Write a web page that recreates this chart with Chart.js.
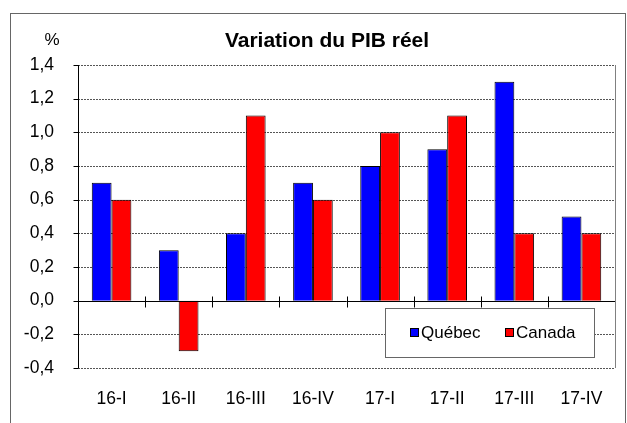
<!DOCTYPE html>
<html>
<head>
<meta charset="utf-8">
<script src="https://cdn.jsdelivr.net/npm/chart.js@4/dist/chart.umd.min.js"></script>
<style>
  body { margin: 0; background: #fff; }
  canvas { display: block; }
</style>
</head>
<body>
<canvas id="chartPib" width="627" height="423"></canvas>
<script>
const categories = ["16-I", "16-II", "16-III", "16-IV", "17-I", "17-II", "17-III", "17-IV"];
const quebec = [0.7, 0.3, 0.4, 0.7, 0.8, 0.9, 1.3, 0.5];
const canada = [0.6, -0.3, 1.1, 0.6, 1.0, 1.1, 0.4, 0.4];
const yTicks = [-0.4, -0.2, 0.0, 0.2, 0.4, 0.6, 0.8, 1.0, 1.2, 1.4];

const FONT = "Arial, 'Liberation Sans', sans-serif";

// grille, axes et cadre dessinés à la main
const decor = {
  id: "decor",
  beforeDatasetsDraw(chart) {
    const { ctx, chartArea: a, scales: { y } } = chart;
    ctx.save();
    ctx.lineWidth = 1;
    ctx.strokeStyle = "#555";
    ctx.setLineDash([2, 1]);
    yTicks.forEach(v => {
      if (v === 0) return;
      const py = Math.round(y.getPixelForValue(v)) + 0.5;
      ctx.beginPath();
      ctx.moveTo(a.left, py);
      ctx.lineTo(a.right, py);
      ctx.stroke();
    });
    ctx.setLineDash([]);
    ctx.strokeStyle = "#808080";
    ctx.beginPath();
    ctx.moveTo(Math.round(a.right) + 0.5, a.top);
    ctx.lineTo(Math.round(a.right) + 0.5, a.bottom);
    ctx.stroke();
    ctx.restore();
  },
  afterDatasetsDraw(chart) {
    const { ctx, chartArea: a, scales: { x, y } } = chart;
    ctx.save();
    ctx.lineWidth = 1;
    ctx.strokeStyle = "#000";
    const lx = Math.round(a.left) + 0.5;
    ctx.beginPath();
    ctx.moveTo(lx, a.top);
    ctx.lineTo(lx, a.bottom);
    yTicks.forEach(v => {
      const py = Math.round(y.getPixelForValue(v)) + 0.5;
      ctx.moveTo(lx - 5, py);
      ctx.lineTo(lx, py);
    });
    const zy = Math.round(y.getPixelForValue(0)) + 0.5;
    ctx.moveTo(a.left, zy);
    ctx.lineTo(a.right, zy);
    for (let i = 1; i < categories.length; i++) {
      const px = Math.round((x.getPixelForValue(i - 1) + x.getPixelForValue(i)) / 2) + 0.5;
      ctx.moveTo(px, zy - 5);
      ctx.lineTo(px, zy + 6);
    }
    ctx.stroke();

    // légende
    const bx = 385.5, by = 308.5, bw = 209, bh = 49;
    ctx.fillStyle = "#fff";
    ctx.fillRect(bx, by, bw, bh);
    ctx.strokeStyle = "#666";
    ctx.strokeRect(bx, by, bw, bh);
    ctx.font = "17px " + FONT;
    ctx.textBaseline = "middle";
    ctx.textAlign = "left";
    const items = [[410, 0], [505, 1]];
    items.forEach(([ix, di]) => {
      const ds = chart.data.datasets[di];
      ctx.fillStyle = ds.backgroundColor;
      ctx.fillRect(ix, 328, 9, 9);
      ctx.strokeStyle = "#000";
      ctx.strokeRect(ix + 0.5, 328.5, 8, 8);
      ctx.fillStyle = "#000";
      ctx.fillText(ds.label, ix + 11, 333);
    });
    ctx.restore();
  },
  afterDraw(chart) {
    const { ctx } = chart;
    ctx.save();
    ctx.strokeStyle = "#666";
    ctx.lineWidth = 1;
    ctx.strokeRect(10.5, 13.5, 615, 420);
    ctx.fillStyle = "#000";
    ctx.textBaseline = "middle";
    ctx.textAlign = "center";
    ctx.font = "bold 21px " + FONT;
    ctx.fillText("Variation du PIB réel", 327, 41);
    ctx.font = "17px " + FONT;
    ctx.fillText("%", 52, 40);
    ctx.restore();
  }
};

new Chart(document.getElementById("chartPib").getContext("2d"), {
  type: "bar",
  data: {
    labels: categories,
    datasets: [
      { label: "Québec", data: quebec, backgroundColor: "#0000ff", borderColor: "#000", borderWidth: 1 },
      { label: "Canada", data: canada, backgroundColor: "#ff0000", borderColor: "#000", borderWidth: 1 }
    ]
  },
  options: {
    responsive: false,
    animation: false,
    layout: { padding: { top: 65, right: 12, bottom: 0, left: 0 } },
    datasets: { bar: { categoryPercentage: 0.59, barPercentage: 1.0 } },
    plugins: { legend: { display: false }, title: { display: false }, tooltip: { enabled: false } },
    scales: {
      x: {
        grid: { display: false },
        border: { display: false },
        ticks: { color: "#000", font: { family: FONT, size: 17.5 }, padding: 13 },
        afterFit(s) { s.height = 55; }
      },
      y: {
        min: -0.4,
        max: 1.4,
        grid: { display: false },
        border: { display: false },
        afterBuildTicks(s) { s.ticks = yTicks.map(v => ({ value: v })); },
        ticks: {
          color: "#000",
          font: { family: FONT, size: 17.5 },
          padding: 16,
          callback: v => (Math.round(v * 10) / 10).toFixed(1).replace(".", ",")
        },
        afterFit(s) { s.width = 78; }
      }
    }
  },
  plugins: [decor]
});
</script>
</body>
</html>
